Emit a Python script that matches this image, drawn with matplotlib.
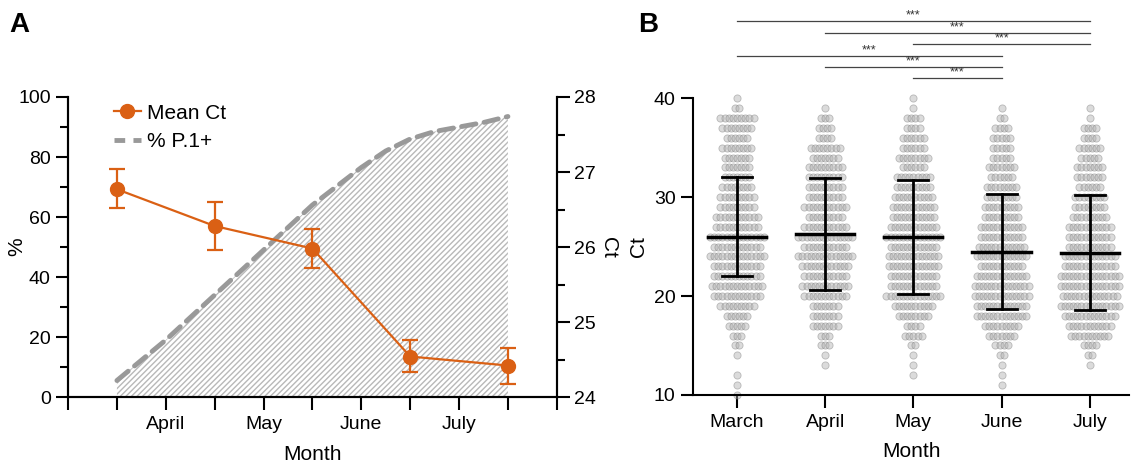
import matplotlib.pyplot as plt
from matplotlib.lines import Line2D
import numpy as np

plt.rcParams['font.family'] = ['Liberation Sans', 'DejaVu Sans']
plt.rcParams['hatch.linewidth'] = 1.0

# ---- panel A data ----
mid_x = [0.5, 1.5, 2.5, 3.5, 4.5]
mean_ct = [26.77, 26.28, 25.98, 24.54, 24.42]
ct_low = [26.52, 25.96, 25.72, 24.34, 24.18]
ct_high = [27.04, 26.60, 26.24, 24.76, 24.66]

p1_x = [0.5, 1.0, 1.5, 2.0, 2.5, 3.0, 3.25, 3.5, 3.75, 4.0, 4.25, 4.5]
p1_pct = [5.5, 19, 34, 49, 64, 76.5, 82, 86, 88.5, 90, 91.5, 93.5]

month_ticks = [1, 2, 3, 4]
month_tick_labels = ["April", "May", "June", "July"]

# ---- panel B data ----
months = ["March", "April", "May", "June", "July"]
ct_levels = list(range(10, 41))  # 10 .. 40
# points per integer Ct level (10 -> 40)
counts_march = [1, 1, 1, 0, 1, 2, 3, 5, 6, 9, 12, 13, 12, 12, 14, 12, 14, 11, 11, 9, 9, 8, 7, 7, 7, 8, 6, 8, 9, 2, 1]
counts_april = [0, 0, 0, 1, 1, 3, 3, 7, 7, 7, 11, 12, 11, 12, 14, 11, 14, 11, 9, 11, 9, 9, 9, 9, 7, 8, 4, 4, 3, 1, 0]
counts_may = [0, 0, 1, 1, 1, 2, 5, 4, 8, 10, 14, 12, 12, 13, 13, 12, 14, 12, 11, 11, 10, 9, 9, 6, 8, 6, 6, 4, 4, 1, 1]
counts_june = [0, 1, 1, 1, 2, 4, 7, 9, 13, 13, 14, 14, 13, 11, 13, 12, 11, 11, 9, 9, 8, 8, 6, 7, 5, 5, 5, 4, 2, 1, 0]
counts_july = [0, 0, 0, 1, 2, 4, 10, 11, 13, 15, 14, 15, 15, 13, 13, 11, 11, 11, 9, 8, 8, 6, 7, 7, 5, 6, 4, 4, 1, 1, 0]
all_counts = [counts_march, counts_april, counts_may, counts_june, counts_july]

mean_b = [26.0, 26.28, 26.0, 24.49, 24.39]
upper_b = [32.0, 31.94, 31.74, 30.32, 30.22]
lower_b = [22.0, 20.58, 20.18, 18.73, 18.6]

sig_pairs = [(0, 4), (1, 4), (2, 4), (0, 3), (1, 3), (2, 3)]
sig_y = [47.8, 46.6, 45.5, 44.3, 43.15, 42.0]

orange = '#DA6014'

fig = plt.figure(figsize=(11.34, 4.63), dpi=100)

# ================= panel A =================
ax = fig.add_axes([0.060, 0.1425, 0.431, 0.648])
ax2 = ax.twinx()

ax.fill_between(p1_x, 0, p1_pct, facecolor='none', edgecolor='#b8b8b8',
                hatch='//////', linewidth=0, zorder=1)
ax.plot(p1_x, p1_pct, color='#999999', lw=3.5, ls=(0, (3, 1.7)),
        dash_capstyle='round', zorder=2)

yerr = [np.array(mean_ct) - np.array(ct_low), np.array(ct_high) - np.array(mean_ct)]
ax2.errorbar(mid_x, mean_ct, yerr=yerr, color=orange, marker='o', ms=10,
             lw=1.6, elinewidth=1.6, capsize=6, capthick=1.6)

ax.set_xlim(0, 5)
ax.set_ylim(0, 100)
ax2.set_ylim(24, 28)
ax.set_yticks([0, 20, 40, 60, 80, 100])
ax.set_yticks(np.arange(10, 100, 20), minor=True)
ax2.set_yticks([24, 25, 26, 27, 28])
ax2.set_yticks(np.arange(24.5, 28, 1), minor=True)
ax.set_xticks(month_ticks)
ax.set_xticklabels(month_tick_labels)
ax.set_xticks([0, 0.5, 1.5, 2.5, 3.5, 4.5, 5], minor=True)

for a in (ax, ax2):
    a.spines['top'].set_visible(False)
    for s in a.spines.values():
        s.set_linewidth(1.5)
    a.tick_params(which='major', length=9, width=1.5, labelsize=14, direction='out')
    a.tick_params(which='minor', length=6, width=1.5, direction='out')
ax.tick_params(axis='x', which='both', length=9)
ax.tick_params(axis='x', pad=5)

ax.set_xlabel('Month', fontsize=15, labelpad=8)
ax.set_ylabel('%', fontsize=15)
ax.yaxis.set_label_coords(-0.085, 0.5)
ax2.set_ylabel('Ct', fontsize=15, rotation=-90, labelpad=16)
ax.set_zorder(ax2.get_zorder() - 1)
ax2.patch.set_visible(False)

handles = [Line2D([], [], color=orange, marker='o', ms=10, lw=1.6),
           Line2D([], [], color='#999999', lw=3.5, ls=(0, (2.2, 1.7)))]
ax2.legend(handles, ['Mean Ct', '% P.1+'], loc='upper left',
           bbox_to_anchor=(0.055, 1.04), frameon=False, fontsize=15,
           handlelength=1.3, handletextpad=0.3, labelspacing=0.45)

# ================= panel B =================
bx = fig.add_axes([0.611, 0.147, 0.385, 0.641])
spacing = 0.047
for i, counts in enumerate(all_counts):
    for lvl, n in zip(ct_levels, counts):
        if n == 0:
            continue
        offs = (np.arange(n) - (n - 1) / 2) * spacing
        bx.scatter(i + offs, np.full(n, lvl), s=27, facecolor='#b0b0b0',
                   edgecolor='#7a7a7a', linewidth=0.6, alpha=0.45, zorder=2,
                   clip_on=False)

for i in range(len(months)):
    bx.plot([i - 0.33, i + 0.33], [mean_b[i], mean_b[i]], color='black', lw=2.5, zorder=4)
    bx.plot([i, i], [lower_b[i], upper_b[i]], color='black', lw=2.0, zorder=4)
    for yv in (lower_b[i], upper_b[i]):
        bx.plot([i - 0.17, i + 0.17], [yv, yv], color='black', lw=2.0, zorder=4)

for (a, b), yv in zip(sig_pairs, sig_y):
    bx.plot([a, b], [yv, yv], color='#444444', lw=0.9, clip_on=False)
    bx.text((a + b) / 2, yv - 0.05, '***', ha='center', va='bottom', fontsize=9,
            color='#333333', clip_on=False)

bx.set_xlim(-0.5, 4.45)
bx.set_ylim(10, 40)
bx.set_yticks([10, 20, 30, 40])
bx.set_xticks(range(len(months)))
bx.set_xticklabels(months)
bx.spines['top'].set_visible(False)
bx.spines['right'].set_visible(False)
for s in ('left', 'bottom'):
    bx.spines[s].set_linewidth(1.5)
bx.tick_params(length=9, width=1.5, labelsize=14)
bx.tick_params(axis='x', pad=5)
bx.set_xlabel('Month', fontsize=15, labelpad=8)
bx.set_ylabel('Ct', fontsize=15)

fig.text(0.008, 0.93, 'A', fontsize=20, fontweight='bold')
fig.text(0.563, 0.93, 'B', fontsize=20, fontweight='bold')

fig.savefig('out.png', dpi=100)
